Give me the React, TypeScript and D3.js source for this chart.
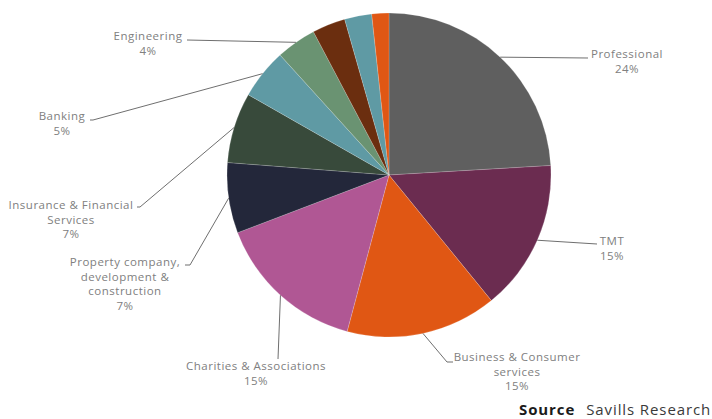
import React from "react";
import * as d3 from "d3";

const categories = [
  "Professional",
  "TMT",
  "Business & Consumer services",
  "Charities & Associations",
  "Property company, development & construction",
  "Insurance & Financial Services",
  "Banking",
  "Engineering",
  "Other A",
  "Other B",
  "Other C",
];
const values = [24, 15, 15, 15, 7, 7, 5, 4, 3.3, 2.7, 1.7];
const percentLabels = ["24%", "15%", "15%", "15%", "7%", "7%", "5%", "4%", "", "", ""];
const labelLines: string[][] = [
  ["Professional"],
  ["TMT"],
  ["Business & Consumer", "services"],
  ["Charities & Associations"],
  ["Property company,", "development &", "construction"],
  ["Insurance & Financial", "Services"],
  ["Banking"],
  ["Engineering"],
  [],
  [],
  [],
];
const colors = [
  "#5f5f5f",
  "#6b2c50",
  "#e05714",
  "#b05794",
  "#23273a",
  "#384a3b",
  "#5f9aa4",
  "#6a9372",
  "#6b2e0f",
  "#5f9aa4",
  "#e05714",
];

// layout of label callouts: elbow point(s) and text anchor (center x, first line center y)
const labelLayout: ({ pts: [number, number][]; tx: number; ty: number } | null)[] = [
  { pts: [[588, 58]], tx: 627, ty: 54 },
  { pts: [[597, 244]], tx: 612, ty: 241 },
  { pts: [[447, 362], [453, 362]], tx: 517, ty: 357 },
  { pts: [[278, 359]], tx: 256, ty: 366 },
  { pts: [[190, 265], [185, 265]], tx: 125, ty: 262 },
  { pts: [[140, 207], [137, 207]], tx: 71, ty: 205 },
  { pts: [[93, 120], [90, 120]], tx: 62, ty: 116 },
  { pts: [[187, 40]], tx: 148, ty: 36 },
  null,
  null,
  null,
];

const W = 712;
const H = 419;
const cx = 389;
const cy = 175;
const R = 162;
const lineH = 14.6;

export default function App() {
  const pie = d3.pie<number>().sort(null).value((d) => d);
  const arcs = pie(values);
  const arcGen = d3.arc<d3.PieArcDatum<number>>().innerRadius(0).outerRadius(R);

  return (
    <svg
      width={W}
      height={H}
      style={{ position: "absolute", left: 0, top: 0, fontFamily: "'Open Sans', sans-serif" }}
    >
      <rect width={W} height={H} fill="#fff" />
      <g transform={`translate(${cx},${cy})`}>
        {arcs.map((a, i) => (
          <path key={i} d={arcGen(a) || ""} fill={colors[i]} stroke="#ffffff" strokeOpacity={0.35} strokeWidth={0.5} />
        ))}
      </g>
      {arcs.map((a, i) => {
        const lay = labelLayout[i];
        if (!lay) return null;
        const mid = (a.startAngle + a.endAngle) / 2;
        const ex = cx + R * Math.sin(mid);
        const ey = cy - R * Math.cos(mid);
        const pts: [number, number][] = [[ex, ey], ...lay.pts];
        const lines = [...labelLines[i], percentLabels[i]];
        return (
          <g key={"l" + i}>
            <path d={d3.line()(pts) || ""} fill="none" stroke="#6f6f6f" strokeWidth={1} />
            {lines.map((t, j) => (
              <text
                key={j}
                x={lay.tx}
                y={lay.ty + j * lineH}
                dy="0.35em"
                textAnchor="middle"
                fontSize={11.5}
                letterSpacing={0.5}
                fill="#808080"
              >
                {t}
              </text>
            ))}
          </g>
        );
      })}
      <text x={519} y={415} fontSize={15} letterSpacing={0.9} fill="#1a1a1a">
        <tspan fontWeight="bold">Source</tspan>
        <tspan dx={11} fill="#3a3a3a">Savills Research</tspan>
      </text>
    </svg>
  );
}
